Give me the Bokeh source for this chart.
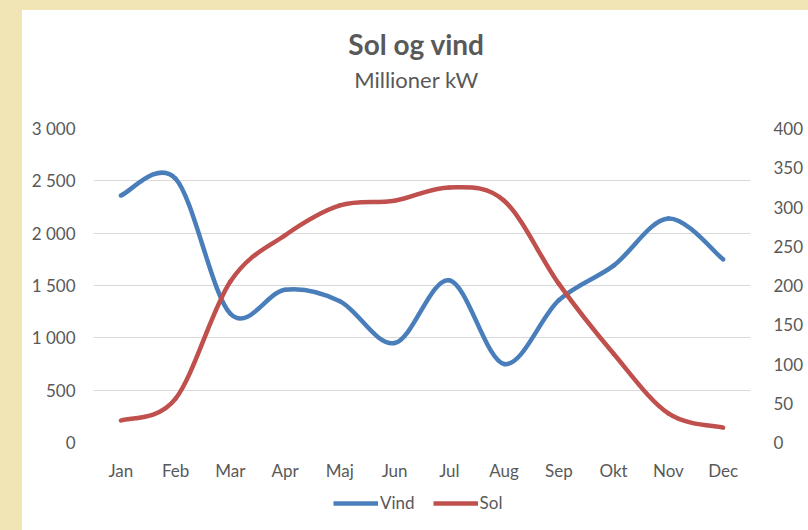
from bokeh.plotting import figure
from bokeh.models import Range1d, LinearAxis, FixedTicker, Legend, LegendItem, Label, ColumnDataSource
from bokeh.layouts import column
from bokeh.embed import file_html
from bokeh.resources import INLINE

months = ["Jan", "Feb", "Mar", "Apr", "Maj", "Jun", "Jul", "Aug", "Sep", "Okt", "Nov", "Dec"]
vind = [2360, 2520, 1230, 1460, 1350, 950, 1550, 750, 1360, 1690, 2140, 1750]
sol = [28, 56, 205, 264, 302, 308, 325, 308, 202, 113, 37, 19]

left_ticks = [0, 500, 1000, 1500, 2000, 2500, 3000]
left_tick_labels = ["0", "500", "1 000", "1 500", "2 000", "2 500", "3 000"]
right_ticks = [0, 50, 100, 150, 200, 250, 300, 350, 400]
right_tick_labels = ["0", "50", "100", "150", "200", "250", "300", "350", "400"]
series_names = ["Vind", "Sol"]
title_text = "Sol og vind"
subtitle_text = "Millioner kW"

TEXT = "#595959"
FONT = "Lato"
BLUE = "#4a7ebb"
RED = "#c0504d"
YELLOW = "#f2e5b5"
W = 786


def smooth_segments(xs, ys):
    """Cubic Bezier control points (Catmull-Rom style, like a spreadsheet 'smoothed line')."""
    n = len(xs)
    d = dict(x0=[], y0=[], x1=[], y1=[], cx0=[], cy0=[], cx1=[], cy1=[])
    for i in range(n - 1):
        p0 = i - 1 if i > 0 else i
        p3 = i + 2 if i + 2 < n else i + 1
        d["x0"].append(xs[i]); d["y0"].append(ys[i])
        d["x1"].append(xs[i + 1]); d["y1"].append(ys[i + 1])
        d["cx0"].append(xs[i] + (xs[i + 1] - xs[p0]) / 6)
        d["cy0"].append(ys[i] + (ys[i + 1] - ys[p0]) / 6)
        d["cx1"].append(xs[i + 1] - (xs[p3] - xs[i]) / 6)
        d["cy1"].append(ys[i + 1] - (ys[p3] - ys[i]) / 6)
    return ColumnDataSource(d)


def blank_fig(h):
    f = figure(width=W, height=h, output_backend="svg", toolbar_location=None,
               x_axis_location=None, y_axis_location=None,
               x_range=Range1d(0, 1), y_range=Range1d(0, 1),
               min_border=0, min_border_left=0, min_border_right=0,
               min_border_top=0, min_border_bottom=0,
               background_fill_color="white", border_fill_color="white", outline_line_color=None)
    f.xgrid.visible = False
    f.ygrid.visible = False
    return f


xs = list(range(len(months)))

# ---------- title block ----------
ft = blank_fig(90)
ft.add_layout(Label(x=323, y=57, x_units="screen", y_units="screen", text=title_text,
                    text_align="center", text_baseline="middle", text_font=FONT,
                    text_font_size="28px", text_font_style="bold", text_color=TEXT))
ft.add_layout(Label(x=323, y=21, x_units="screen", y_units="screen", text=subtitle_text,
                    text_align="center", text_baseline="middle", text_font=FONT,
                    text_font_size="22px", text_color=TEXT))

# ---------- main chart ----------
p = figure(width=W, height=385, output_backend="svg", toolbar_location=None,
           x_range=Range1d(-0.5, len(months) - 0.5), y_range=Range1d(0, 3000),
           min_border_left=71, min_border_right=58, min_border_top=28, min_border_bottom=43,
           background_fill_color="white", border_fill_color="white", outline_line_color=None)
p.extra_y_ranges = {"sol": Range1d(0, 400)}

p.xgrid.grid_line_color = None
p.ygrid.grid_line_color = "#d9d9d9"
p.ygrid.grid_line_width = 1
p.yaxis.ticker = FixedTicker(ticks=left_ticks)


def style_axis(ax, standoff):
    ax.axis_line_color = None
    ax.major_tick_line_color = None
    ax.minor_tick_line_color = None
    ax.major_tick_out = 0
    ax.major_tick_in = 0
    ax.minor_tick_out = 0
    ax.minor_tick_in = 0
    ax.major_label_standoff = standoff
    ax.major_label_text_font = FONT
    ax.major_label_text_font_size = "17px"
    ax.major_label_text_color = TEXT


ya = p.yaxis[0]
ya.major_label_overrides = {t: l for t, l in zip(left_ticks, left_tick_labels)}
style_axis(ya, 18)

ra = LinearAxis(y_range_name="sol", ticker=FixedTicker(ticks=right_ticks))
ra.major_label_overrides = {t: l for t, l in zip(right_ticks, right_tick_labels)}
style_axis(ra, 23)
p.add_layout(ra, "right")

xa = p.xaxis[0]
xa.ticker = FixedTicker(ticks=xs)
xa.major_label_overrides = {i: m for i, m in zip(xs, months)}
style_axis(xa, 17)

p.bezier(x0="x0", y0="y0", x1="x1", y1="y1", cx0="cx0", cy0="cy0", cx1="cx1", cy1="cy1",
         source=smooth_segments(xs, vind), line_color=BLUE, line_width=4.5, line_cap="round")
p.bezier(x0="x0", y0="y0", x1="x1", y1="y1", cx0="cx0", cy0="cy0", cx1="cx1", cy1="cy1",
         source=smooth_segments(xs, sol), line_color=RED, line_width=4.5, line_cap="round",
         y_range_name="sol")

# ---------- legend block ----------
fl = blank_fig(45)
# legend key renderers (hidden; only their legend swatches are shown)
key_v = fl.line(x=xs, y=vind, line_color=BLUE, line_width=4.5, visible=False)
key_s = fl.line(x=xs, y=sol, line_color=RED, line_width=4.5, visible=False)
legend = Legend(items=[LegendItem(label=series_names[0], renderers=[key_v]),
                       LegendItem(label=series_names[1], renderers=[key_s])],
                orientation="horizontal", location=(240, 17),
                label_text_font=FONT, label_text_font_size="17px", label_text_color=TEXT,
                glyph_width=45, glyph_height=20, label_standoff=2, spacing=18,
                padding=0, margin=0, border_line_color=None, background_fill_alpha=0,
                inactive_fill_alpha=0, click_policy="none")
fl.add_layout(legend, "center")

inner = column(ft, p, fl, spacing=0, styles={"background-color": "white"})
page = column(inner, styles={"background-color": YELLOW, "padding": "10px 0px 0px 22px"})

open("out.html", "w").write(file_html(page, INLINE))
